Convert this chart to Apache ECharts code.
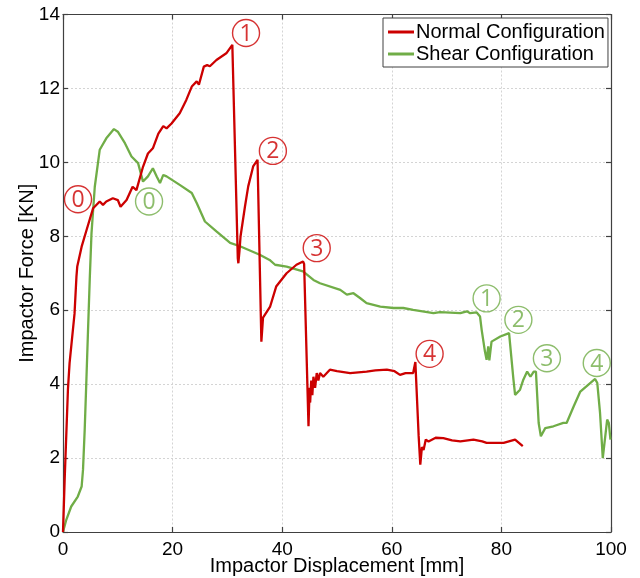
<!DOCTYPE html>
<html><head><meta charset="utf-8">
<script src="https://cdn.jsdelivr.net/npm/echarts@6/dist/echarts.min.js"></script>
<style>html,body{margin:0;padding:0;background:#fff}#c{width:640px;height:578px}</style>
</head><body><div id="c"></div>
<script>
const xTicks = [0, 20, 40, 60, 80, 100];
const yTicks = [0, 2, 4, 6, 8, 10, 12, 14];

const normalData = [[0,0],[0.3,1.4],[0.9,3.85],[1.2,4.57],[2.1,5.9],[2.45,6.9],[2.6,7.18],[3.4,7.72],[4.3,8.17],[5.5,8.76],[6.7,8.94],[7.3,8.85],[7.9,8.94],[9.1,9.03],[10,8.98],[10.5,8.8],[11.6,8.98],[12.7,9.34],[13.4,9.25],[14.6,9.88],[15.5,10.24],[16.4,10.38],[17.4,10.78],[18.3,10.98],[18.9,10.92],[19.8,11.05],[21.3,11.33],[22.5,11.69],[23.5,12.05],[24.4,12.19],[24.8,12.1],[25.7,12.59],[26.3,12.63],[26.8,12.6],[28,12.77],[29.8,12.95],[30.9,13.18],[31.9,7.4],[32.0,7.27],[32.2,7.6],[32.4,8.0],[33.2,8.8],[33.8,9.35],[34.7,9.89],[35.5,10.07],[36.2,5.15],[36.5,5.8],[36.8,5.79],[37.8,6.1],[38.9,6.64],[40.8,7.0],[42.6,7.23],[43.8,7.32],[44.0,7.25],[44.8,2.86],[45.0,3.9],[45.1,3.5],[45.3,4.1],[45.5,3.7],[45.7,4.2],[46.0,3.9],[46.3,4.3],[46.6,4.1],[46.9,4.3],[47.5,4.2],[48.7,4.39],[50,4.35],[52.4,4.3],[55.4,4.34],[57,4.37],[59.1,4.39],[60.5,4.35],[61.5,4.25],[62.5,4.3],[63.9,4.3],[64.3,4.6],[64.9,2.6],[65.2,1.82],[65.5,2.3],[65.8,2.22],[66.2,2.5],[66.7,2.45],[68,2.55],[69.4,2.54],[71,2.48],[72.5,2.45],[74.9,2.5],[76.5,2.45],[77.3,2.41],[80.4,2.41],[82.5,2.5],[83.9,2.32]];

const shearData = [[0,0],[0.6,0.33],[1.5,0.69],[2.7,0.96],[3.4,1.23],[3.65,1.68],[3.96,2.77],[4.27,4.12],[4.57,5.47],[4.88,6.83],[5.2,8.08],[5.8,9.34],[6.7,10.34],[7.9,10.65],[9.3,10.9],[10,10.83],[11.3,10.52],[12.5,10.16],[13.7,9.98],[14.6,9.48],[15.5,9.62],[16.4,9.84],[17.1,9.62],[17.7,9.44],[18.3,9.66],[18.9,9.62],[21.3,9.39],[23.5,9.17],[24.4,8.9],[25.9,8.4],[28,8.13],[30.5,7.82],[32.3,7.73],[35.9,7.5],[37.7,7.36],[38.7,7.23],[40.8,7.18],[43.8,7.05],[45.7,6.82],[46.9,6.73],[50.6,6.55],[51.8,6.42],[53,6.46],[54.2,6.33],[55.4,6.19],[57.9,6.1],[60.3,6.06],[62.1,6.06],[63.9,6.01],[67.6,5.92],[68.8,5.95],[72.5,5.92],[73.7,5.97],[74.3,5.92],[75.5,5.94],[76.1,5.83],[76.4,5.47],[77,4.88],[77.3,4.66],[77.6,5.02],[77.8,4.64],[78.2,5.15],[79.8,5.29],[81.4,5.38],[82.2,4.12],[82.5,3.71],[83.4,3.85],[84,4.12],[84.7,4.34],[85.3,4.2],[85.9,4.34],[86.3,4.34],[86.8,2.95],[87.2,2.59],[88,2.81],[89.5,2.86],[91.3,2.95],[91.9,2.95],[93.2,3.4],[94.4,3.8],[96.2,4.03],[97.1,4.14],[97.5,4.03],[98,3.22],[98.5,2.0],[98.8,2.0],[99.3,3.04],[99.6,2.95],[99.9,2.5]];

const normalMarks = [[2.74,9.0,'0'],[33.4,13.5,'1'],[38.3,10.31,'2'],[46.3,7.68,'3'],[66.9,4.82,'4']];
const shearMarks = [[15.7,8.94,'0'],[77.3,6.32,'1'],[83.1,5.74,'2'],[88.3,4.70,'3'],[97.4,4.57,'4']];

const RED = '#cc0000', GREEN = '#70ad47';
const FONT = 'Liberation Sans';
const chart = echarts.init(document.getElementById('c'));

function markSeries(data, color) {
  return {
    type: 'scatter', xAxisIndex: 0, yAxisIndex: 0, z: 5,
    data: data.map(d => ({value: [d[0], d[1]], label: {formatter: d[2]}})),
    symbol: 'circle', symbolSize: 27,
    itemStyle: {color: 'rgba(255,255,255,0)', borderColor: color, borderWidth: 1.4},
    label: {show: true, position: 'inside', color: color, fontSize: 23, fontFamily: 'Open Sans', offset: [0, 1]},
    silent: true
  };
}

const axisLineStyle = {color: '#404040', width: 1.2};
chart.setOption({
  animation: false,
  grid: {left: 63, right: 29, top: 14.5, bottom: 46, containLabel: false, outerBoundsMode: 'none'},
  legend: {
    data: ['Normal Configuration', 'Shear Configuration'],
    orient: 'vertical', left: 383, top: 18,
    borderColor: '#404040', borderWidth: 1, backgroundColor: '#fff',
    padding: [4, 3, 3, 5], itemGap: 2, itemWidth: 26, itemHeight: 3, icon: 'rect',
    textStyle: {fontSize: 20, fontFamily: FONT, color: '#000', padding: [0, 0, 0, -3]}
  },
  xAxis: [{
    type: 'value', min: 0, max: 100, interval: 20,
    name: 'Impactor Displacement [mm]', nameLocation: 'middle', nameGap: 24, nameMoveOverlap: false,
    nameTextStyle: {fontSize: 20, fontFamily: FONT, color: '#000'},
    axisLine: {show: true, onZero: false, lineStyle: axisLineStyle},
    axisTick: {show: true, inside: true, length: 5, lineStyle: axisLineStyle},
    axisLabel: {fontSize: 19, fontFamily: FONT, color: '#000', margin: 8, formatter: v => xTicks.includes(v) ? String(v) : ''},
    splitLine: {show: true, lineStyle: {color: '#d4d4d4', type: [2, 2]}}
  }, {
    type: 'value', min: 0, max: 100, interval: 20, position: 'top',
    axisLine: {show: true, onZero: false, lineStyle: axisLineStyle},
    axisTick: {show: true, inside: true, length: 5, lineStyle: axisLineStyle},
    axisLabel: {show: false}, splitLine: {show: false}
  }],
  yAxis: [{
    type: 'value', min: 0, max: 14, interval: 2,
    name: 'Impactor Force [KN]', nameLocation: 'middle', nameGap: 26, nameMoveOverlap: false,
    nameTextStyle: {fontSize: 20, fontFamily: FONT, color: '#000'},
    axisLine: {show: true, onZero: false, lineStyle: axisLineStyle},
    axisTick: {show: true, inside: true, length: 5, lineStyle: axisLineStyle},
    axisLabel: {fontSize: 19, fontFamily: FONT, color: '#000', margin: 3, formatter: v => yTicks.includes(v) ? String(v) : ''},
    splitLine: {show: true, lineStyle: {color: '#d4d4d4', type: [2, 2]}}
  }, {
    type: 'value', min: 0, max: 14, interval: 2, position: 'right',
    axisLine: {show: true, onZero: false, lineStyle: axisLineStyle},
    axisTick: {show: true, inside: true, length: 5, lineStyle: axisLineStyle},
    axisLabel: {show: false}, splitLine: {show: false}
  }],
  series: [
    {name: 'Normal Configuration', type: 'line', data: normalData, showSymbol: false,
     lineStyle: {color: RED, width: 2.3}, itemStyle: {color: RED}, z: 3},
    {name: 'Shear Configuration', type: 'line', data: shearData, showSymbol: false,
     lineStyle: {color: GREEN, width: 2.3}, itemStyle: {color: GREEN}, z: 2},
    markSeries(normalMarks, RED),
    markSeries(shearMarks, GREEN)
  ]
});
</script></body></html>
